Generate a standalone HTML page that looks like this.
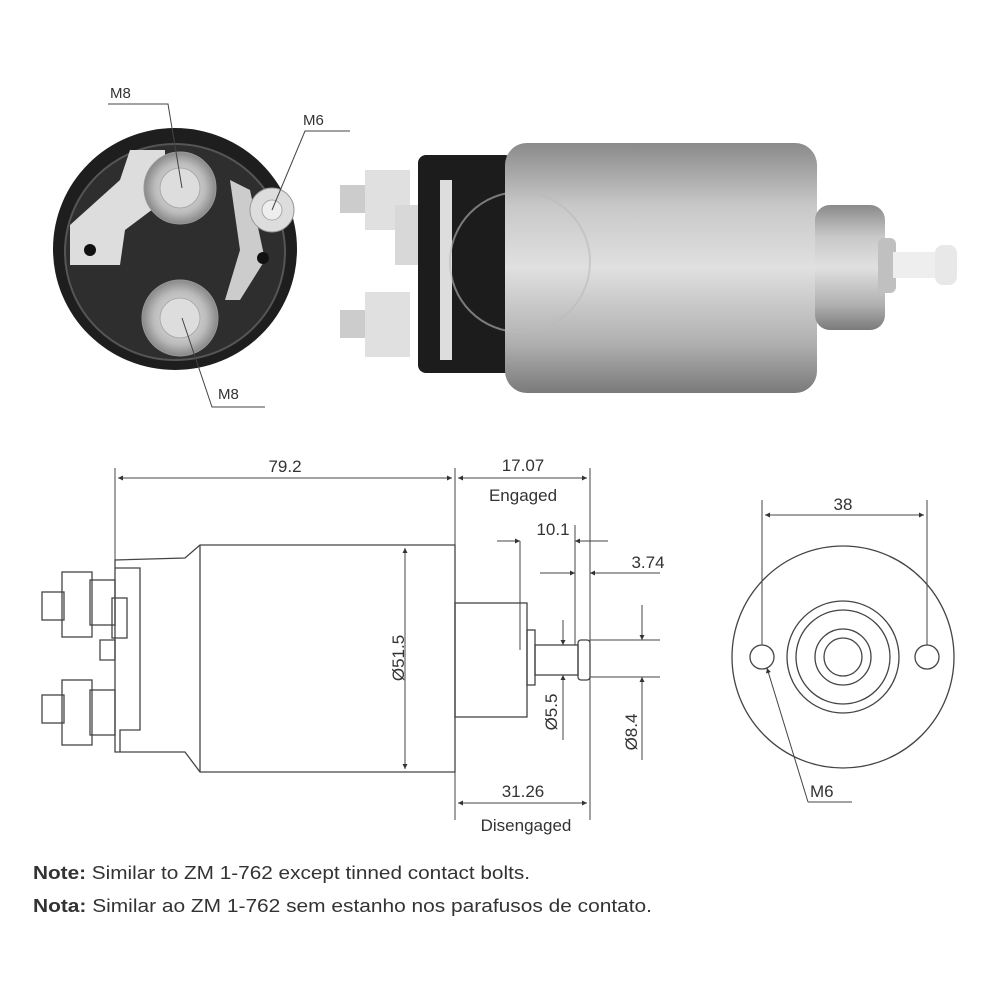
<!DOCTYPE html>
<html><head><meta charset="utf-8"><style>
body{margin:0;background:#fff}
svg{display:block}
text{font-family:"Liberation Sans",sans-serif;fill:#333}
</style></head><body>
<svg width="1000" height="1000" viewBox="0 0 1000 1000" xmlns="http://www.w3.org/2000/svg">
<defs>
<linearGradient id="cyl" x1="0" y1="0" x2="0" y2="1">
<stop offset="0" stop-color="#8a8a8a"/><stop offset="0.25" stop-color="#c8c8c8"/><stop offset="0.5" stop-color="#e0e0e0"/><stop offset="0.8" stop-color="#b0b0b0"/><stop offset="1" stop-color="#7a7a7a"/></linearGradient>
<radialGradient id="bolt"><stop offset="0" stop-color="#eee"/><stop offset="0.7" stop-color="#bbb"/><stop offset="1" stop-color="#888"/></radialGradient>
<marker id="a" viewBox="0 0 10 10" refX="10" refY="5" markerWidth="7" markerHeight="5" orient="auto-start-reverse"><path d="M0 0L10 5L0 10z" fill="#333"/></marker>
</defs>

<ellipse cx="175" cy="249" rx="122" ry="121" fill="#1e1e1e"/>
<ellipse cx="175" cy="252" rx="110" ry="108" fill="#2e2e2e" stroke="#555" stroke-width="2"/>
<path d="M70 225 L120 180 L130 150 L165 150 L165 200 L125 230 L120 265 L70 265 Z" fill="#ddd"/>
<path d="M230 180 L250 190 L265 260 L240 300 L225 300 L240 250 Z" fill="#ccc"/>
<circle cx="90" cy="250" r="6" fill="#111"/>
<circle cx="263" cy="258" r="6" fill="#111"/>
<circle cx="180" cy="188" r="36" fill="url(#bolt)" stroke="#999"/>
<circle cx="180" cy="188" r="20" fill="#ddd" stroke="#aaa"/>
<circle cx="180" cy="318" r="38" fill="url(#bolt)" stroke="#999"/>
<circle cx="180" cy="318" r="20" fill="#ddd" stroke="#aaa"/>
<circle cx="272" cy="210" r="22" fill="#ddd" stroke="#999"/>
<circle cx="272" cy="210" r="10" fill="#eee" stroke="#aaa"/>
<text x="110" y="98" font-size="15">M8</text>
<path d="M108 104H168L182 188" stroke="#444" fill="none"/>
<text x="303" y="125" font-size="15">M6</text>
<path d="M350 131H305L272 210" stroke="#444" fill="none"/>
<text x="218" y="399" font-size="15">M8</text>
<path d="M265 407H212L182 318" stroke="#444" fill="none"/>

<rect x="340" y="185" width="30" height="28" fill="#ccc"/>
<rect x="340" y="310" width="30" height="28" fill="#ccc"/>
<rect x="365" y="170" width="45" height="60" fill="#e0e0e0"/>
<rect x="365" y="292" width="45" height="65" fill="#e0e0e0"/>
<rect x="395" y="205" width="40" height="60" fill="#d8d8d8"/>
<rect x="418" y="155" width="95" height="218" rx="8" fill="#1c1c1c"/>
<rect x="440" y="180" width="12" height="180" fill="#ddd"/>
<rect x="505" y="143" width="312" height="250" rx="22" fill="url(#cyl)"/>
<circle cx="520" cy="262" r="70" fill="none" stroke="#bbb" stroke-width="2" opacity="0.6"/>
<rect x="815" y="205" width="70" height="125" rx="15" fill="url(#cyl)"/>
<rect x="878" y="238" width="18" height="55" rx="6" fill="#c0c0c0"/>
<rect x="893" y="252" width="50" height="26" fill="#eee"/>
<rect x="935" y="245" width="22" height="40" rx="8" fill="#e8e8e8"/>

<g stroke="#444" fill="none" stroke-width="1.3">
<path d="M115 560 L185 558 L200 545 L455 545 L455 772 L200 772 L185 752 L115 752 Z"/>
<line x1="200" y1="545" x2="200" y2="772"/>
<path d="M115 568 H140 V730 H120 V752"/>
<rect x="42" y="592" width="22" height="28"/><rect x="62" y="572" width="30" height="65"/><rect x="90" y="580" width="25" height="45"/>
<rect x="42" y="695" width="22" height="28"/><rect x="62" y="680" width="30" height="65"/><rect x="90" y="690" width="25" height="45"/>
<rect x="112" y="598" width="15" height="40"/>
<path d="M100 640 H115 V660 H100Z"/>
<rect x="455" y="603" width="72" height="114"/>
<rect x="527" y="630" width="8" height="55"/>
<rect x="535" y="645" width="43" height="30"/>
<rect x="578" y="640" width="12" height="40" rx="3"/>
</g>
<g stroke="#444" stroke-width="1">
<line x1="115" y1="468" x2="115" y2="565"/>
<line x1="455" y1="468" x2="455" y2="820"/>
<line x1="590" y1="468" x2="590" y2="820"/>
<line x1="520" y1="541" x2="520" y2="650"/>
<line x1="575" y1="525" x2="575" y2="645"/>
<line x1="590" y1="640" x2="660" y2="640"/>
<line x1="590" y1="677" x2="660" y2="677"/>
<line x1="118" y1="478" x2="452" y2="478" marker-start="url(#a)" marker-end="url(#a)"/>
<line x1="458" y1="478" x2="587" y2="478" marker-start="url(#a)" marker-end="url(#a)"/>
<line x1="497" y1="541" x2="520" y2="541" marker-end="url(#a)"/>
<line x1="608" y1="541" x2="575" y2="541" marker-end="url(#a)"/>
<line x1="540" y1="573" x2="575" y2="573" marker-end="url(#a)"/>
<line x1="660" y1="573" x2="590" y2="573" marker-end="url(#a)"/>
<line x1="405" y1="548" x2="405" y2="769" marker-start="url(#a)" marker-end="url(#a)"/>
<line x1="563" y1="620" x2="563" y2="645" marker-end="url(#a)"/>
<line x1="563" y1="740" x2="563" y2="675" marker-end="url(#a)"/>
<line x1="642" y1="605" x2="642" y2="640" marker-end="url(#a)"/>
<line x1="642" y1="760" x2="642" y2="677" marker-end="url(#a)"/>
<line x1="458" y1="803" x2="587" y2="803" marker-start="url(#a)" marker-end="url(#a)"/>
</g>
<g font-size="17">
<text x="285" y="472" text-anchor="middle">79.2</text>
<text x="523" y="471" text-anchor="middle">17.07</text>
<text x="523" y="501" text-anchor="middle">Engaged</text>
<text x="553" y="535" text-anchor="middle">10.1</text>
<text x="648" y="568" text-anchor="middle">3.74</text>
<text transform="translate(404,658) rotate(-90)" text-anchor="middle">Ø51.5</text>
<text transform="translate(557,712) rotate(-90)" text-anchor="middle">Ø5.5</text>
<text transform="translate(637,732) rotate(-90)" text-anchor="middle">Ø8.4</text>
<text x="523" y="797" text-anchor="middle">31.26</text>
<text x="526" y="831" text-anchor="middle">Disengaged</text>
</g>

<g stroke="#444" fill="none" stroke-width="1.3">
<circle cx="843" cy="657" r="111"/>
<circle cx="762" cy="657" r="12"/><circle cx="927" cy="657" r="12"/>
<circle cx="843" cy="657" r="56"/><circle cx="843" cy="657" r="47"/>
<circle cx="843" cy="657" r="28"/><circle cx="843" cy="657" r="19"/>
</g>
<g stroke="#444" stroke-width="1">
<line x1="762" y1="500" x2="762" y2="645"/>
<line x1="927" y1="500" x2="927" y2="645"/>
<line x1="765" y1="515" x2="924" y2="515" marker-start="url(#a)" marker-end="url(#a)"/>
<line x1="808" y1="802" x2="767" y2="668" marker-end="url(#a)"/>
<line x1="808" y1="802" x2="852" y2="802"/>
</g>
<text x="843" y="510" font-size="17" text-anchor="middle">38</text>
<text x="810" y="797" font-size="17">M6</text>

<text x="33" y="879" font-size="18" textLength="497" lengthAdjust="spacingAndGlyphs"><tspan font-weight="bold">Note:</tspan> Similar to ZM 1-762 except tinned contact bolts.</text>
<text x="33" y="912" font-size="18" textLength="619" lengthAdjust="spacingAndGlyphs"><tspan font-weight="bold">Nota:</tspan> Similar ao ZM 1-762 sem estanho nos parafusos de contato.</text>
</svg>
</body></html>
